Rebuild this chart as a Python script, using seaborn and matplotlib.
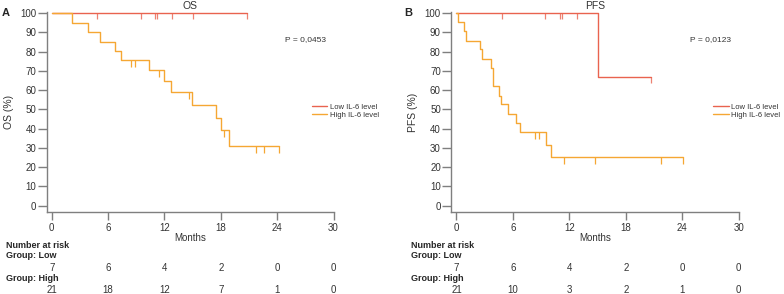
import matplotlib
matplotlib.use("Agg")
from matplotlib import pyplot as plt
from matplotlib import transforms
import pandas as pd
import seaborn as sns

# --- data ---
months_ticks = [0, 6, 12, 18, 24, 30]
pct_ticks = [0, 10, 20, 30, 40, 50, 60, 70, 80, 90, 100]

os_low_t = [0, 20.8]
os_low_s = [100, 100]
os_low_cens_t = [4.8, 9.5, 11.0, 11.2, 12.8, 15.0, 20.8]
os_low_cens_s = [100, 100, 100, 100, 100, 100, 100]

os_high_t = [0, 2.15, 3.9, 5.15, 6.75, 7.35, 10.4, 12.0, 12.7, 14.9, 17.5, 18.0, 18.9, 24.2]
os_high_s = [100, 94.6, 90.0, 85.1, 80.3, 75.6, 70.4, 64.7, 58.8, 52.2, 45.3, 39.3, 31.0, 31.0]
os_high_cens_t = [8.45, 8.87, 11.4, 14.65, 18.3, 21.7, 22.6, 24.2]
os_high_cens_s = [75.6, 75.6, 70.4, 58.8, 39.3, 31.0, 31.0, 31.0]

pfs_low_t = [0, 15.0, 20.7]
pfs_low_s = [100, 66.6, 66.6]
pfs_low_cens_t = [4.86, 9.46, 11.0, 11.2, 12.83, 20.7]
pfs_low_cens_s = [100, 100, 100, 100, 100, 66.6]

pfs_high_t = [0, 0.18, 0.78, 1.03, 2.45, 2.7, 3.72, 3.93, 4.57, 4.75, 5.5, 6.3, 6.8, 9.56, 10.1, 24.1]
pfs_high_s = [100, 95.2, 90.7, 85.6, 81.3, 76.0, 71.6, 62.1, 56.9, 52.6, 47.6, 42.9, 38.1, 31.7, 25.3, 25.3]
pfs_high_cens_t = [8.4, 8.8, 11.4, 14.7, 21.7, 24.1]
pfs_high_cens_s = [38.1, 38.1, 25.3, 25.3, 25.3, 25.3]

os_risk_low = [7, 6, 4, 2, 0, 0]
os_risk_high = [21, 18, 12, 7, 1, 0]
pfs_risk_low = [7, 6, 4, 2, 0, 0]
pfs_risk_high = [21, 10, 3, 2, 1, 0]

RED = "#e9634f"
ORANGE = "#f5a733"
GREY = "#7f7f7f"
TXT = "#333333"

sns.set_style("ticks")
plt.rcParams["font.family"] = ["Liberation Sans", "DejaVu Sans"]
plt.rcParams["font.size"] = 7

fig = plt.figure(figsize=(7.84, 2.94), dpi=100)


def _km_panel(ax, name, low, high, low_c, high_c, pval, risk_low, risk_high, text_x, leg_x):
    curves = pd.concat([
        pd.DataFrame({"t": high[0], "s": high[1], "group": "High IL-6 level"}),
        pd.DataFrame({"t": low[0], "s": low[1], "group": "Low IL-6 level"}),
    ])
    sns.lineplot(data=curves, x="t", y="s", hue="group",
                 hue_order=["Low IL-6 level", "High IL-6 level"],
                 palette={"Low IL-6 level": RED, "High IL-6 level": ORANGE},
                 estimator=None, sort=False, drawstyle="steps-post",
                 linewidth=1.0, ax=ax, clip_on=False, zorder=3)
    ax.plot(high_c[0], high_c[1], ls="none", marker=3, ms=5, mew=0.9, color=ORANGE, clip_on=False)
    ax.plot(low_c[0], low_c[1], ls="none", marker=3, ms=4, mew=0.9, color=RED, clip_on=False, alpha=0.8)

    ax.set_xlim(-0.55, 30)
    ax.set_ylim(-3.1, 100.3)
    ax.set_xticks(months_ticks)
    ax.set_yticks(pct_ticks)
    sns.despine(ax=ax)
    for sp in ax.spines.values():
        sp.set_color(GREY)
        sp.set_linewidth(1.0)
    ax.tick_params(axis="both", colors=GREY, labelcolor=TXT, labelsize=7, width=1.0)
    ax.tick_params(axis="x", length=5.8, pad=2)
    ax.tick_params(axis="y", length=6.5, pad=1)

    ax.set_xlabel("Months", fontsize=7, color=TXT)
    ax.xaxis.set_label_coords(0.5, -0.105)
    ax.set_ylabel(f"{name} (%)", fontsize=7.5, color=TXT)
    ax.yaxis.set_label_coords(-0.115, 0.5)
    ax.set_title(name, fontsize=7.5, pad=2.5, color=TXT)

    ax.text(0.831, 0.862, pval, transform=ax.transAxes, fontsize=6, va="center", color=TXT)
    leg = ax.legend(loc="center left", bbox_to_anchor=(leg_x, 0.505), frameon=False,
                    fontsize=5.5, handlelength=2.0, handletextpad=0.35, labelspacing=0.1,
                    borderpad=0, borderaxespad=0)
    for h in leg.get_lines():
        h.set_linewidth(1.0)
    for t in leg.get_texts():
        t.set_color(TXT)

    tr = transforms.blended_transform_factory(ax.transData, fig.transFigure)
    fig.text(text_x, 0.1643, "Number at risk", fontweight="bold", va="center", fontsize=6.5)
    fig.text(text_x, 0.1293, "Group: Low", fontweight="bold", va="center", fontsize=6.5)
    fig.text(text_x, 0.0534, "Group: High", fontweight="bold", va="center", fontsize=6.5)
    for m, a, b in zip(months_ticks, risk_low, risk_high):
        ax.text(m, 0.0895, str(a), transform=tr, ha="center", va="center", fontsize=7, color=TXT)
        ax.text(m, 0.0136, str(b), transform=tr, ha="center", va="center", fontsize=7, color=TXT)


ax_os = fig.add_axes([0.0594, 0.2799, 0.366, 0.678])
ax_pfs = fig.add_axes([0.5756, 0.2799, 0.3667, 0.678])

_km_panel(ax_os, "OS", (os_low_t, os_low_s), (os_high_t, os_high_s),
          (os_low_cens_t, os_low_cens_s), (os_high_cens_t, os_high_cens_s),
          "P = 0,0453", os_risk_low, os_risk_high, 0.0077, 0.925)
_km_panel(ax_pfs, "PFS", (pfs_low_t, pfs_low_s), (pfs_high_t, pfs_high_s),
          (pfs_low_cens_t, pfs_low_cens_s), (pfs_high_cens_t, pfs_high_cens_s),
          "P = 0,0123", pfs_risk_low, pfs_risk_high, 0.524, 0.912)

fig.text(0.002, 0.956, "A", fontweight="bold", fontsize=8, va="center")
fig.text(0.516, 0.956, "B", fontweight="bold", fontsize=8, va="center")

fig.savefig("out.png", dpi=100)
